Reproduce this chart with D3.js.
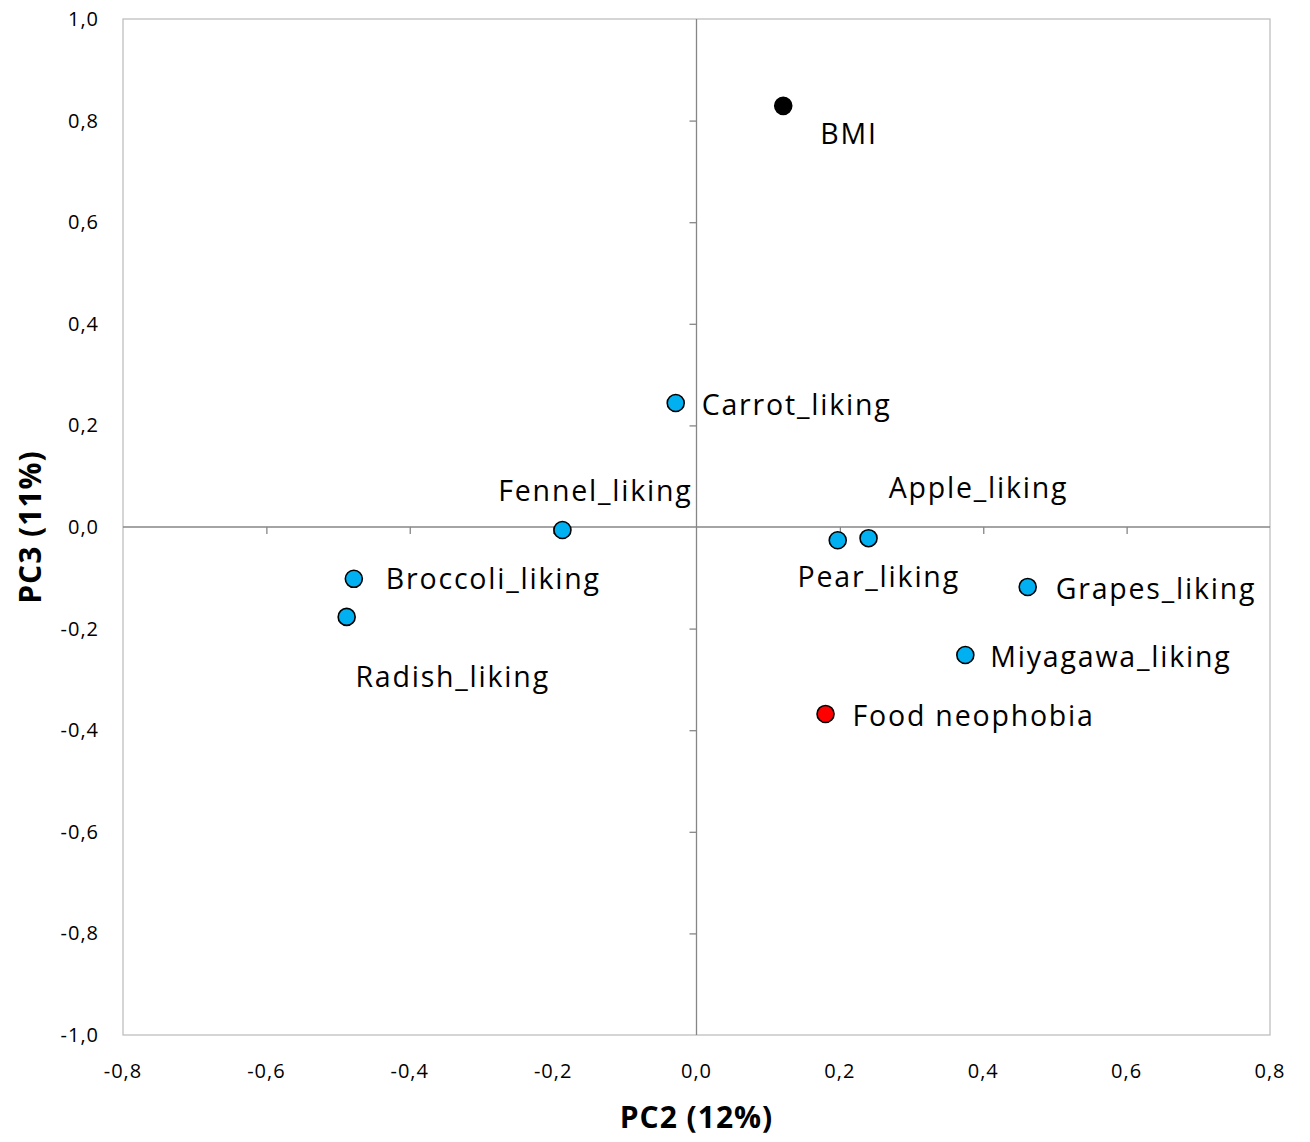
<!DOCTYPE html>
<html>
<head>
<meta charset="utf-8">
<script src="https://cdn.jsdelivr.net/npm/d3@7"></script>
<style>
  body { margin: 0; background: #fff; }
  text { font-family: "Open Sans", Lato, sans-serif; fill: #000; }
</style>
</head>
<body>
<div id="chart"></div>
<script>
// variables and their loadings
const names = ['BMI', 'Carrot_liking', 'Fennel_liking', 'Broccoli_liking', 'Radish_liking',
  'Pear_liking', 'Apple_liking', 'Grapes_liking', 'Miyagawa_liking', 'Food neophobia']
const pc2 = [0.121, -0.029, -0.187, -0.478, -0.488, 0.197, 0.240, 0.462, 0.375, 0.180]
const pc3 = [0.829, 0.244, -0.006, -0.102, -0.177, -0.026, -0.022, -0.118, -0.252, -0.368]
const kinds = ['bmi', 'liking', 'liking', 'liking', 'liking', 'liking', 'liking', 'liking', 'liking', 'neo']

const xTicks = [-0.8, -0.6, -0.4, -0.2, 0.0, 0.2, 0.4, 0.6, 0.8]
const yTicks = [-1.0, -0.8, -0.6, -0.4, -0.2, 0.0, 0.2, 0.4, 0.6, 0.8, 1.0]

const colors = { liking: '#00b0f0', bmi: '#000000', neo: '#ff0000' }
// label placement relative to point (pixels)
const labelPos = {
  'BMI': [37, 28, 'start'],
  'Carrot_liking': [26, 2, 'start'],
  'Fennel_liking': [33, -39, 'middle'],
  'Broccoli_liking': [32, 0, 'start'],
  'Radish_liking': [106, 60, 'middle'],
  'Pear_liking': [41, 37, 'middle'],
  'Apple_liking': [110, -50, 'middle'],
  'Grapes_liking': [28, 2, 'start'],
  'Miyagawa_liking': [25, 2, 'start'],
  'Food neophobia': [27, 2, 'start']
}

const width = 1310
const height = 1142
const margin = { top: 19, right: 40, bottom: 107, left: 123 }

const svg = d3.select('#chart').append('svg').attr('width', width).attr('height', height)

const x = d3.scaleLinear().domain([-0.8, 0.8]).range([margin.left, width - margin.right])
const y = d3.scaleLinear().domain([-1, 1]).range([height - margin.bottom, margin.top])

const fmt = d => d3.format('.1f')(d).replace('.', ',').replace('−', '-')

// plot frame
svg.append('rect')
  .attr('x', x(-0.8)).attr('y', y(1))
  .attr('width', x(0.8) - x(-0.8)).attr('height', y(-1) - y(1))
  .attr('fill', 'none').attr('stroke', '#bfbfbf').attr('stroke-width', 1.3)

// zero axes with ticks
const xAxis = svg.append('g')
  .attr('transform', 'translate(0,' + y(0) + ')')
  .call(d3.axisBottom(x).tickValues(xTicks.filter(d => d > -0.8 && d < 0.8 && d !== 0)).tickSize(7).tickFormat('').tickSizeOuter(0))
xAxis.select('.domain').attr('d', 'M' + x(-0.8) + ',0H' + x(0.8))
const yAxis = svg.append('g')
  .attr('transform', 'translate(' + x(0) + ',0)')
  .call(d3.axisLeft(y).tickValues(yTicks.filter(d => d > -1 && d < 1 && d !== 0)).tickSize(7).tickFormat('').tickSizeOuter(0))
yAxis.select('.domain').attr('d', 'M0,' + y(1) + 'V' + y(-1))
svg.selectAll('.domain, .tick line').attr('stroke', '#868686').attr('stroke-width', 1.3)

// tick labels along the frame
svg.append('g').selectAll('text').data(xTicks).enter().append('text')
  .attr('x', d => x(d)).attr('y', y(-1) + 43)
  .attr('text-anchor', 'middle').attr('font-size', 20).attr('letter-spacing', '1px').attr('fill', '#404040')
  .text(fmt)
svg.append('g').selectAll('text').data(yTicks).enter().append('text')
  .attr('x', x(-0.8) - 24).attr('y', d => y(d) + 7)
  .attr('text-anchor', 'end').attr('font-size', 20).attr('letter-spacing', '1px').attr('fill', '#404040')
  .text(fmt)

// axis titles
svg.append('text')
  .attr('x', x(0)).attr('y', 1128)
  .attr('text-anchor', 'middle').attr('font-size', 30).attr('font-weight', 'bold').attr('letter-spacing', '1px')
  .text('PC2 (12%)')
svg.append('text')
  .attr('transform', 'translate(41,' + y(0) + ') rotate(-90)')
  .attr('text-anchor', 'middle').attr('font-size', 30).attr('font-weight', 'bold').attr('letter-spacing', '1px')
  .text('PC3 (11%)')

// points
const pts = names.map((n, i) => ({ name: n, px: pc2[i], py: pc3[i], kind: kinds[i] }))

svg.append('g').selectAll('circle').data(pts).enter().append('circle')
  .attr('cx', d => x(d.px)).attr('cy', d => y(d.py))
  .attr('r', 8.5)
  .attr('fill', d => colors[d.kind])
  .attr('stroke', '#000').attr('stroke-width', 1.6)

svg.append('g').selectAll('text').data(pts).enter().append('text')
  .attr('x', d => x(d.px) + labelPos[d.name][0])
  .attr('y', d => y(d.py) + labelPos[d.name][1])
  .attr('dy', '0.35em')
  .attr('text-anchor', d => labelPos[d.name][2])
  .attr('font-size', 28.5)
  .attr('letter-spacing', '1.8px')
  .text(d => d.name)
</script>
</body>
</html>
